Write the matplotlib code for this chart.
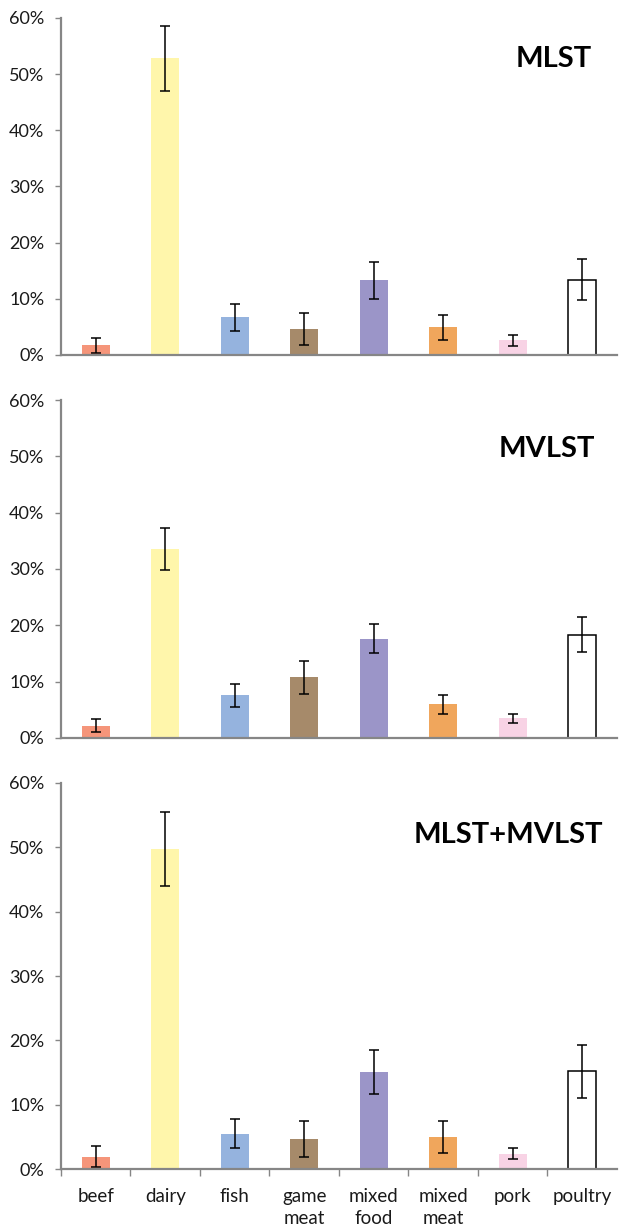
import matplotlib.pyplot as plt
import numpy as np
from matplotlib.ticker import FuncFormatter, FixedLocator

# --- data (percent of isolates) ---
categories = ['beef', 'dairy', 'fish', 'game\nmeat', 'mixed\nfood', 'mixed\nmeat', 'pork', 'poultry']

mlst_vals = [1.7, 52.8, 6.7, 4.6, 13.3, 4.9, 2.6, 13.4]
mlst_err = [1.35, 5.8, 2.4, 2.8, 3.3, 2.3, 0.95, 3.7]

mvlst_vals = [2.2, 33.5, 7.6, 10.8, 17.6, 6.0, 3.5, 18.3]
mvlst_err = [1.1, 3.7, 2.05, 2.95, 2.6, 1.7, 0.8, 3.1]

both_vals = [1.9, 49.7, 5.5, 4.6, 15.1, 5.0, 2.4, 15.2]
both_err = [1.65, 5.75, 2.2, 2.8, 3.45, 2.45, 0.9, 4.15]

titles = ['MLST', 'MVLST', 'MLST+MVLST']
yticks = [0, 10, 20, 30, 40, 50, 60]

bar_colors = ['#F5957A', '#FFF6AB', '#95B3DE', '#A68A6A', '#9B95C8', '#F0A65C', '#F8D3E5', '#FFFFFF']
edge_colors = ['none'] * 7 + ['black']

plt.rcParams['font.family'] = ['Lato', 'DejaVu Sans']
axis_grey = '#868686'

fig = plt.figure(figsize=(6.19, 12.24), dpi=100)

# axes boxes in figure fraction [left, bottom, width, height]
boxes = [
    [0.0985, 0.7100, 0.898, 0.2753],
    [0.0985, 0.3971, 0.898, 0.2761],
    [0.0985, 0.0449, 0.898, 0.3154],
]
title_pos = [(0.955, 0.878), (0.960, 0.855), (0.975, 0.865)]

panels = [(mlst_vals, mlst_err), (mvlst_vals, mvlst_err), (both_vals, both_err)]
x = np.arange(len(categories))

for i, (vals, errs) in enumerate(panels):
    ax = fig.add_axes(boxes[i])
    ax.bar(x, vals, width=0.4, color=bar_colors, edgecolor=edge_colors, linewidth=1.1,
           yerr=errs, error_kw=dict(ecolor='black', elinewidth=1.1, capsize=3.5, capthick=1.1))
    ax.set_xlim(-0.5, 7.5)
    ax.set_ylim(0, 60)
    ax.set_yticks(yticks)
    ax.yaxis.set_major_formatter(FuncFormatter(lambda v, p: f'{v:.0f}%'))
    ax.tick_params(axis='y', direction='out', length=4, width=1, color=axis_grey,
                   labelsize=13, labelcolor='#1a1a1a', pad=8)

    for side in ['top', 'right']:
        ax.spines[side].set_visible(False)
    for side in ['left', 'bottom']:
        ax.spines[side].set_color(axis_grey)
        ax.spines[side].set_linewidth(1.6)

    if i == 2:
        ax.set_xticks(x)
        ax.set_xticklabels(categories, fontsize=13.5, color='#1a1a1a', linespacing=1.3)
        ax.tick_params(axis='x', which='major', length=0, pad=14)
        ax.xaxis.set_minor_locator(FixedLocator(np.arange(-0.5, 7.5, 1.0)))
        ax.tick_params(axis='x', which='minor', direction='out', length=5, width=1, color=axis_grey)
    else:
        ax.set_xticks([])

    ax.text(title_pos[i][0], title_pos[i][1], titles[i], transform=ax.transAxes,
            ha='right', va='center', fontsize=21, fontweight='bold', color='black')

plt.savefig('out.png', dpi=100)
